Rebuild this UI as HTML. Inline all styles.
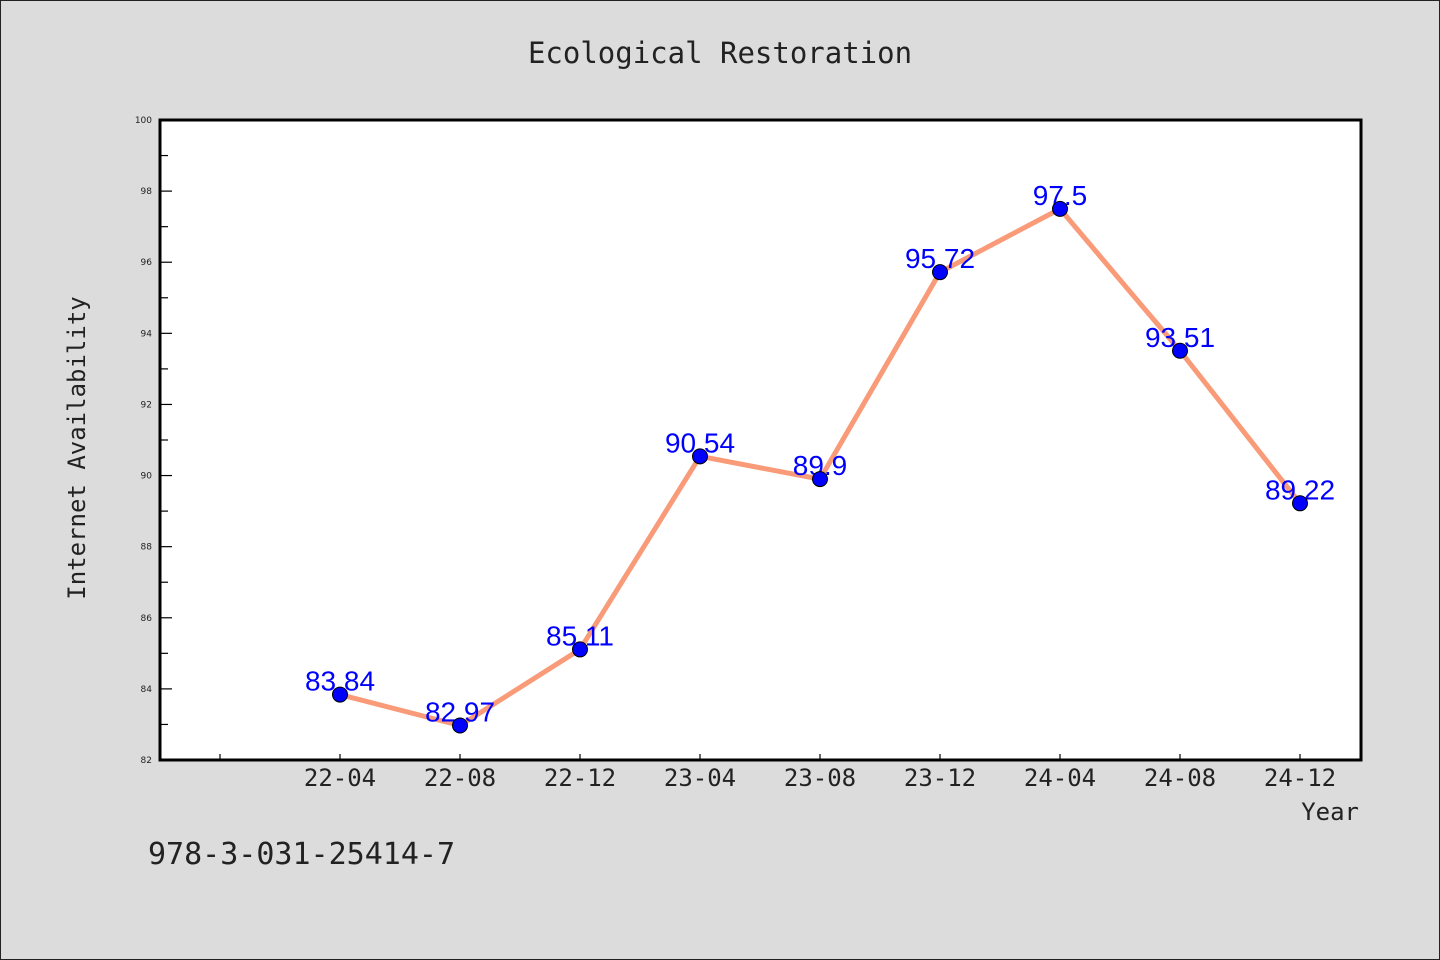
<!DOCTYPE html>
<html><head><meta charset="utf-8"><style>
html,body{margin:0;padding:0;background:#dcdcdc;}
svg{display:block;}
</style></head><body>
<svg id="chart" width="1440" height="960" xmlns="http://www.w3.org/2000/svg">
<rect x="0.5" y="0.5" width="1439" height="959" fill="#dcdcdc" stroke="#222" stroke-width="1"/>
<text x="720" y="63" text-anchor="middle" font-family="DejaVu Sans Mono, monospace" font-size="29" fill="#222">Ecological Restoration</text>
<rect x="160" y="120" width="1201" height="640" fill="#fff"/>
<g id="grid"></g>
<g id="series"></g>
<rect x="160" y="120" width="1201" height="640" fill="none" stroke="#000" stroke-width="3"/>
<text transform="translate(85,448) rotate(-90)" text-anchor="middle" font-family="DejaVu Sans Mono, monospace" font-size="24" fill="#222">Internet Availability</text>
<text x="1359" y="820" text-anchor="end" font-family="DejaVu Sans Mono, monospace" font-size="24" fill="#222">Year</text>
<text x="148" y="864" font-family="DejaVu Sans Mono, monospace" font-size="30" fill="#222">978-3-031-25414-7</text>
</svg>
<script>
const categories = ["", "22-04", "22-08", "22-12", "23-04", "23-08", "23-12", "24-04", "24-08", "24-12"];
const values = [null, 83.84, 82.97, 85.11, 90.54, 89.9, 95.72, 97.5, 93.51, 89.22];
const valueLabels = ["", "83.84", "82.97", "85.11", "90.54", "89.9", "95.72", "97.5", "93.51", "89.22"];
const yTicks = [82, 84, 86, 88, 90, 92, 94, 96, 98, 100];
const yMin = 82, yMax = 100;
const NS = "http://www.w3.org/2000/svg";
const L = 160, R = 1361, T = 120, B = 760;
function x(i){ return 220 + 120 * i; }
function y(v){ return B - (v - yMin) / (yMax - yMin) * (B - T); }
function mk(tag, attrs, parent){ const e = document.createElementNS(NS, tag); for (const k in attrs) e.setAttribute(k, attrs[k]); parent.appendChild(e); return e; }
const grid = document.getElementById('grid');
const series = document.getElementById('series');
for (let v = yMin; v <= yMax; v += 1) {
  const major = (v - yMin) % 2 === 0;
  const t = mk('line', {x1: L, x2: L + (major ? 12 : 8), y1: y(v), y2: y(v), stroke: '#000', 'stroke-width': 1.2}, grid);
  
  
}
yTicks.forEach(v => {
  const t = mk('text', {x: 152, y: y(v) + 3, 'text-anchor': 'end', 'font-family': 'DejaVu Sans, sans-serif', 'font-size': 9, fill: '#222'}, grid);
  t.textContent = v;
  
  
});
categories.forEach((c, i) => {
  const t = mk('line', {x1: x(i), x2: x(i), y1: B, y2: B - 6, stroke: '#000', 'stroke-width': 1.2}, grid);
  
  
  if (c) {
    const l = mk('text', {x: x(i), y: 786, 'text-anchor': 'middle', 'font-family': 'DejaVu Sans Mono, monospace', 'font-size': 24, fill: '#222'}, grid);
    l.textContent = c;
    
    
  }
});
const pts = [];
values.forEach((v, i) => { if (v !== null) pts.push([x(i), y(v), i]); });
const line = mk('polyline', {points: pts.map(p => p[0] + ',' + p[1]).join(' '), fill: 'none', stroke: '#f99b78', 'stroke-width': 5, 'stroke-linejoin': 'round'}, series);


pts.forEach(p => {
  const l = mk('text', {x: p[0], y: p[1] - 4, 'text-anchor': 'middle', 'font-family': 'Liberation Sans, sans-serif', 'font-size': 28, fill: '#0000ff'}, series);
  l.textContent = valueLabels[p[2]];
  
  
});
pts.forEach(p => {
  const c = mk('circle', {cx: p[0], cy: p[1], r: 7.5, fill: '#0000ff', stroke: '#000', 'stroke-width': 1}, series);
  
  
});
</script>
</body></html>
